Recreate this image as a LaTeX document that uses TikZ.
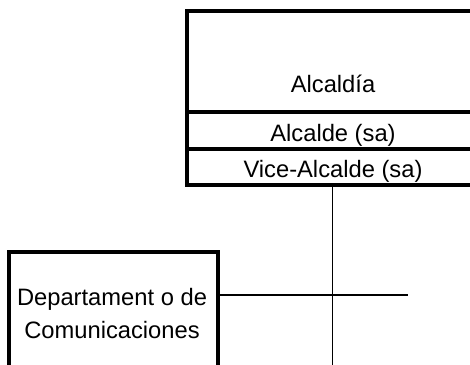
\documentclass[tikz,border=0pt]{standalone}
\usepackage{fontspec}
\setmainfont{Liberation Sans}
\begin{document}
\begin{tikzpicture}[x=0.75pt,y=-0.75pt,
  box/.style={draw=black,line width=2.6pt,inner sep=0pt},
  lbl/.style={anchor=base,inner sep=0pt,font=\fontsize{17.8pt}{20pt}\selectfont},
  conn/.style={draw=black,line width=1.2pt},
  hconn/.style={draw=black,line width=1.8pt}]
\useasboundingbox (0,0) rectangle (470,364);
\clip (0,0) rectangle (470,364);
% top box rows
\node[box,minimum width=293*0.75pt,minimum height=101*0.75pt] (alc) at (333.5,61.5) {};
\node[box,minimum width=293*0.75pt,minimum height=37*0.75pt] (alcalde) at (333.5,130.5) {};
\node[box,minimum width=293*0.75pt,minimum height=36*0.75pt] (vice) at (333.5,167) {};
\node[lbl] (t1) at (333,92) {Alcaldía};
\node[lbl] (t2) at (333,141) {Alcalde (sa)};
\node[lbl] (t3) at (333,177) {Vice-Alcalde (sa)};
% department box
\node[box,minimum width=209*0.75pt,minimum height=140*0.75pt] (dept) at (113.5,322) {};
\node[lbl] (d1) at (112,305) {Departament o de};
\node[lbl] (d2) at (112,338) {Comunicaciones};
% connectors
\coordinate (vend) at (332.5,370);
\coordinate (hend) at (408,295);
\draw[conn] (vice.south -| vend) -- (vend);
\draw[hconn] (dept.east |- hend) -- (hend);
\end{tikzpicture}
\end{document}
